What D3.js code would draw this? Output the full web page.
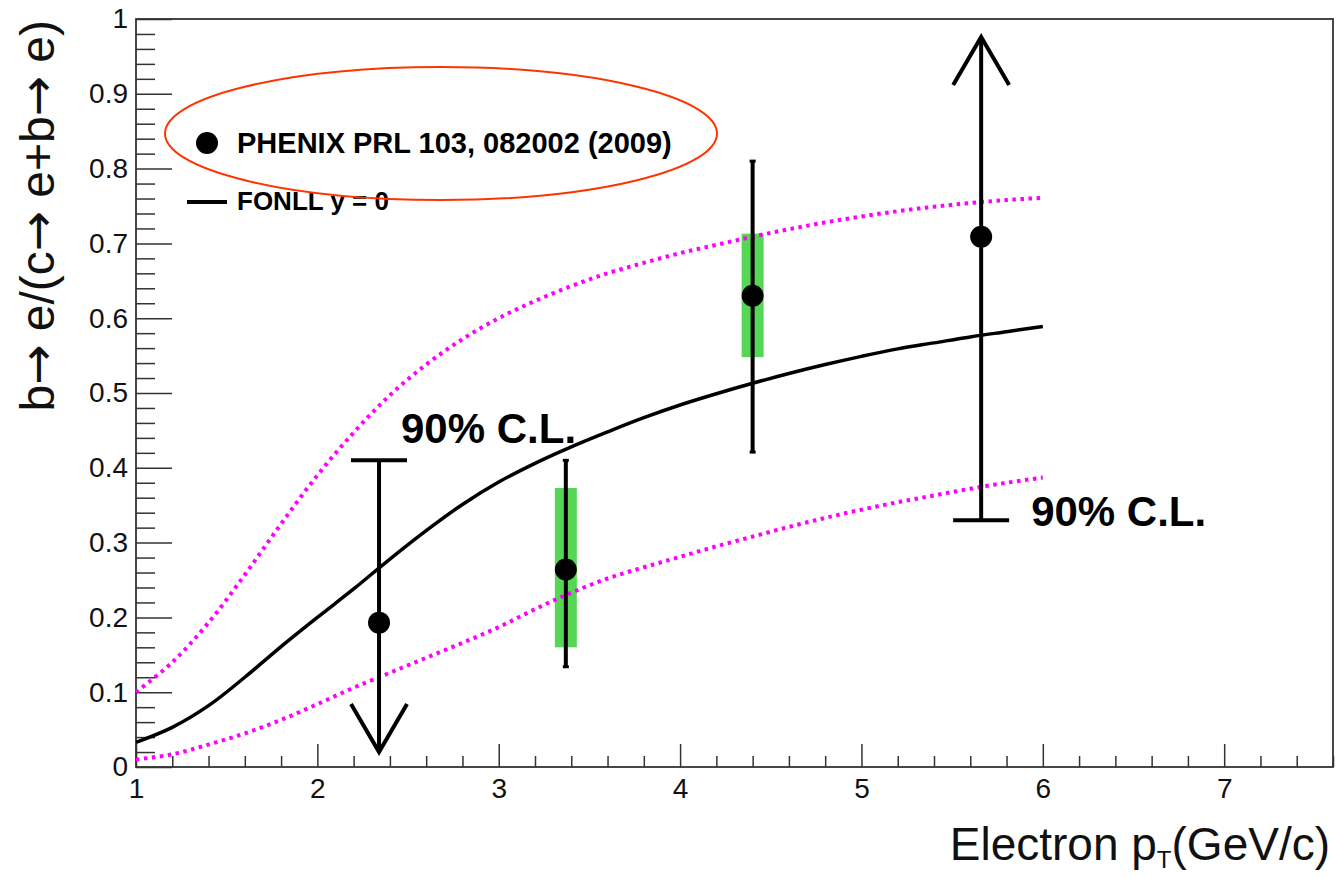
<!DOCTYPE html>
<html>
<head>
<meta charset="utf-8">
<script src="https://cdn.jsdelivr.net/npm/d3@7"></script>
<style>
  html, body { margin: 0; padding: 0; background: #fff; }
  svg { display: block; font-family: "Liberation Sans", Arial, Helvetica, sans-serif; }
</style>
</head>
<body>
<svg id="chart" width="1337" height="877"></svg>
<script>
// FONLL prediction for the bottom fraction (central value and band edges)
const fonllPt      = [1.0, 1.2, 1.4, 1.6, 1.8, 2.0, 2.2, 2.4, 2.6, 2.8, 3.0, 3.2, 3.4, 3.6, 3.8, 4.0, 4.2, 4.4, 4.6, 4.8, 5.0, 5.2, 5.4, 5.6, 5.8, 6.0];
const fonllCentral = [0.033, 0.053, 0.082, 0.120, 0.161, 0.200, 0.238, 0.278, 0.316, 0.351, 0.381, 0.406, 0.428, 0.448, 0.467, 0.484, 0.499, 0.513, 0.526, 0.538, 0.549, 0.559, 0.567, 0.575, 0.582, 0.589];
const fonllUpper   = [0.100, 0.140, 0.193, 0.257, 0.325, 0.390, 0.447, 0.497, 0.538, 0.572, 0.600, 0.623, 0.643, 0.660, 0.674, 0.687, 0.698, 0.709, 0.719, 0.728, 0.736, 0.743, 0.749, 0.754, 0.758, 0.761];
const fonllLower   = [0.010, 0.017, 0.030, 0.045, 0.063, 0.084, 0.106, 0.126, 0.146, 0.166, 0.187, 0.211, 0.233, 0.252, 0.267, 0.281, 0.295, 0.308, 0.321, 0.333, 0.344, 0.354, 0.363, 0.372, 0.380, 0.387];

// PHENIX measurements
const dataPt      = [2.34, 3.37, 4.40, 5.66];
const dataValue   = [0.193, 0.264, 0.630, 0.709];
const statLow     = [null, 0.134, 0.421, null];
const statHigh    = [null, 0.410, 0.810, null];
const sysLow      = [null, 0.160, 0.548, null];
const sysHigh     = [null, 0.373, 0.713, null];
// 90% C.L. limits: upper limit for the first point, lower limit for the last
const limitValue  = [0.410, null, null, 0.330];
const limitArrow  = [0.020, null, null, 0.976];
const limitLabel  = ["90% C.L.", null, null, "90% C.L."];

// Axis ticks
const xTickValues = [1, 2, 3, 4, 5, 6, 7];
const xTickLabels = ["1", "2", "3", "4", "5", "6", "7"];
const yTickValues = [0, 0.1, 0.2, 0.3, 0.4, 0.5, 0.6, 0.7, 0.8, 0.9, 1];
const yTickLabels = ["0", "0.1", "0.2", "0.3", "0.4", "0.5", "0.6", "0.7", "0.8", "0.9", "1"];

const legendEntries = ["PHENIX PRL 103, 082002 (2009)", "FONLL y = 0"];

const svg = d3.select("#chart");
const frame = { left: 136, right: 1333, top: 19, bottom: 767 };

const x = d3.scaleLinear().domain([1, 7.6]).range([frame.left, frame.right]);
const y = d3.scaleLinear().domain([0, 1]).range([frame.bottom, frame.top]);

const axisColor = "#333";

// Minor tick positions
const xMinor = d3.range(1, 7.6001, 0.2).filter(v => Math.abs(v - Math.round(v)) > 1e-6);
const yMinor = d3.range(0, 1.0001, 0.02).filter(v => Math.abs(v * 10 - Math.round(v * 10)) > 1e-6);

// X axis (ticks pointing into the frame)
const gx = svg.append("g").attr("transform", `translate(0,${frame.bottom})`);
gx.call(d3.axisBottom(x).tickValues(xTickValues)
  .tickFormat((d, i) => xTickLabels[i]).tickSizeInner(-23).tickSizeOuter(0).tickPadding(11));
gx.append("g").call(d3.axisBottom(x).tickValues(xMinor).tickFormat("").tickSizeInner(-11).tickSizeOuter(0));

// Y axis
const gy = svg.append("g").attr("transform", `translate(${frame.left},0)`);
gy.call(d3.axisLeft(y).tickValues(yTickValues)
  .tickFormat((d, i) => yTickLabels[i]).tickSizeInner(-36).tickSizeOuter(0).tickPadding(8));
gy.append("g").call(d3.axisLeft(y).tickValues(yMinor).tickFormat("").tickSizeInner(-19).tickSizeOuter(0));

svg.selectAll(".domain").remove();
svg.selectAll(".tick line").attr("stroke", axisColor).attr("stroke-width", 1.5);
svg.selectAll(".tick text").attr("font-size", 28).attr("fill", "#111")
  .attr("font-family", "'Liberation Sans', Arial, sans-serif");

// Frame
svg.append("rect")
  .attr("x", frame.left).attr("y", frame.top)
  .attr("width", frame.right - frame.left).attr("height", frame.bottom - frame.top)
  .attr("fill", "none").attr("stroke", axisColor).attr("stroke-width", 1.8);

// Systematic boxes
const boxHalf = 11;
dataPt.forEach((pt, i) => {
  if (sysLow[i] == null) return;
  svg.append("rect")
    .attr("x", x(pt) - boxHalf).attr("width", 2 * boxHalf)
    .attr("y", y(sysHigh[i])).attr("height", y(sysLow[i]) - y(sysHigh[i]))
    .attr("fill", "#55d655");
});

// FONLL curves
const line = d3.line().x(d => x(d[0])).y(d => y(d[1])).curve(d3.curveCatmullRom.alpha(0.5));
[fonllUpper, fonllLower].forEach(vals => {
  svg.append("path")
    .datum(fonllPt.map((p, i) => [p, vals[i]]))
    .attr("d", line)
    .attr("fill", "none").attr("stroke", "#ff00ff")
    .attr("stroke-width", 4).attr("stroke-dasharray", "3.5,4.5");
});
svg.append("path")
  .datum(fonllPt.map((p, i) => [p, fonllCentral[i]]))
  .attr("d", line)
  .attr("fill", "none").attr("stroke", "#000").attr("stroke-width", 3.5);

// Error bars and limits
const capHalf = 28, arrowHalf = 28, arrowLen = 48;
dataPt.forEach((pt, i) => {
  const px = x(pt);
  if (statLow[i] != null) {
    svg.append("line").attr("x1", px).attr("x2", px)
      .attr("y1", y(statHigh[i])).attr("y2", y(statLow[i]))
      .attr("stroke", "#000").attr("stroke-width", 4);
    [statHigh[i], statLow[i]].forEach(v => {
      svg.append("line").attr("x1", px - 3).attr("x2", px + 3)
        .attr("y1", y(v)).attr("y2", y(v))
        .attr("stroke", "#000").attr("stroke-width", 3);
    });
  }
  if (limitValue[i] != null) {
    const yl = y(limitValue[i]), ya = y(limitArrow[i]);
    const dir = ya > yl ? -1 : 1;   // wings point back toward the limit
    svg.append("line").attr("x1", px).attr("x2", px).attr("y1", yl).attr("y2", ya)
      .attr("stroke", "#000").attr("stroke-width", 4);
    svg.append("line").attr("x1", px - capHalf).attr("x2", px + capHalf)
      .attr("y1", yl).attr("y2", yl).attr("stroke", "#000").attr("stroke-width", 4);
    svg.append("path")
      .attr("d", `M${px - arrowHalf},${ya + dir * arrowLen} L${px},${ya} L${px + arrowHalf},${ya + dir * arrowLen}`)
      .attr("fill", "none").attr("stroke", "#000").attr("stroke-width", 4);
    const up = dir === -1;
    svg.append("text")
      .attr("x", up ? px + 22 : px + 50)
      .attr("y", up ? yl - 17 : yl + 6)
      .attr("font-size", 42).attr("font-weight", "bold").attr("fill", "#000")
      .text(limitLabel[i]);
  }
});

// Data points
svg.selectAll(".pt").data(dataPt).enter().append("circle")
  .attr("cx", d => x(d)).attr("cy", (d, i) => y(dataValue[i]))
  .attr("r", 11).attr("fill", "#000");

// Legend
svg.append("circle").attr("cx", 207).attr("cy", 143).attr("r", 11).attr("fill", "#000");
svg.append("text").attr("x", 237).attr("y", 153)
  .attr("font-size", 29).attr("font-weight", "bold").text(legendEntries[0]);
svg.append("line").attr("x1", 187).attr("x2", 227).attr("y1", 202).attr("y2", 202)
  .attr("stroke", "#000").attr("stroke-width", 4);
svg.append("text").attr("x", 237).attr("y", 210)
  .attr("font-size", 26).attr("font-weight", "bold").text(legendEntries[1]);

// Highlight ellipse around the PHENIX entry
svg.append("ellipse").attr("cx", 441).attr("cy", 133.5).attr("rx", 276).attr("ry", 66.5)
  .attr("fill", "none").attr("stroke", "#ff3300").attr("stroke-width", 2);

// Axis titles
const xt = svg.append("text").attr("x", 1330).attr("y", 860)
  .attr("text-anchor", "end").attr("font-size", 46).attr("fill", "#111");
xt.append("tspan").text("Electron p");
xt.append("tspan").attr("font-size", 24).attr("dy", 8).text("T");
xt.append("tspan").attr("dy", -8).text("(GeV/c)");

const arrowFont = "'DejaVu Sans', sans-serif";
const yt = svg.append("text")
  .attr("transform", "translate(54,20) rotate(-90)")
  .attr("text-anchor", "end").attr("font-size", 48).attr("fill", "#111");
[["b", false], ["\u2192", true], [" e/(c", false], ["\u2192", true],
 [" e+b", false], ["\u2192", true], [" e)", false]].forEach(([s, arrow]) => {
  const t = yt.append("tspan").text(s);
  if (arrow) t.attr("font-family", arrowFont).attr("font-size", 48);
});
</script>
</body>
</html>
